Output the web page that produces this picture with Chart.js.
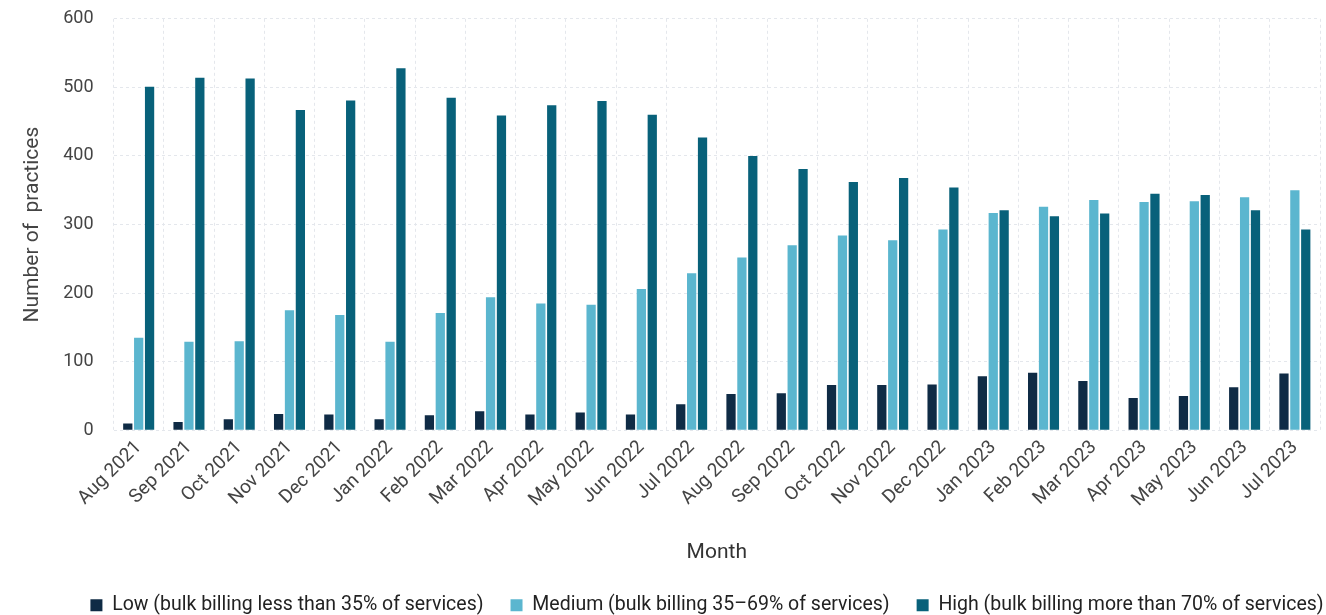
<!DOCTYPE html>
<html>
<head>
<meta charset="utf-8">
<script src="https://cdn.jsdelivr.net/npm/chart.js@4/dist/chart.umd.min.js"></script>
<style>
  html, body { margin: 0; padding: 0; background: #ffffff; }
  #wrap { width: 1326px; height: 615px; }
</style>
</head>
<body>
<div id="wrap"><canvas id="billing"></canvas></div>
<script>
const months = [
    "Aug 2021", "Sep 2021", "Oct 2021", "Nov 2021", "Dec 2021", "Jan 2022",
    "Feb 2022", "Mar 2022", "Apr 2022", "May 2022", "Jun 2022", "Jul 2022",
    "Aug 2022", "Sep 2022", "Oct 2022", "Nov 2022", "Dec 2022", "Jan 2023",
    "Feb 2023", "Mar 2023", "Apr 2023", "May 2023", "Jun 2023", "Jul 2023",
];
const lowValues = [10, 12, 16, 24, 23, 16, 22, 28, 23, 26, 23, 38, 53, 54, 66, 66, 67, 79, 84, 72, 47, 50, 63, 83];
const mediumValues = [135, 129, 130, 175, 168, 129, 171, 194, 185, 183, 206, 229, 252, 270, 284, 277, 293, 317, 326, 336, 333, 334, 340, 350];
const highValues = [501, 514, 513, 467, 481, 528, 485, 459, 474, 480, 460, 427, 400, 381, 362, 368, 354, 321, 312, 316, 345, 343, 321, 293];
const yTicks = [0, 100, 200, 300, 400, 500, 600];

const seriesNames = [
    "Low (bulk billing less than 35% of services)",
    "Medium (bulk billing 35\u201369% of services)",
    "High (bulk billing more than 70% of services)",
];

const data = {
    labels: months,
    datasets: [
        { label: seriesNames[0], data: lowValues, backgroundColor: "#0f2b45" },
        { label: seriesNames[1], data: mediumValues, backgroundColor: "#5bb6cf" },
        { label: seriesNames[2], data: highValues, backgroundColor: "#08617a" },
    ],
};

// nudge the legend row to the right, like the original
const legendShift = {
    id: "legendShift",
    afterLayout(chart) {
        chart.legend.left += 37;
        chart.legend.right += 37;
    },
};

// config
const config = {
    type: "bar",
    data,
    plugins: [legendShift],
    options: {
        responsive: true,
        maintainAspectRatio: false,
        animation: false,
        layout: { padding: { top: 0, right: 6, left: 20, bottom: -10 } },
        datasets: { bar: { barPercentage: 0.85, categoryPercentage: 0.65 } },
        scales: {
            x: {
                grid: { color: "#e4e7ec", offset: true, drawTicks: false },
                border: { display: false, dash: [3, 3] },
                ticks: {
                    color: "#444",
                    font: { family: "Roboto", size: 19 },
                    minRotation: 45,
                    maxRotation: 45,
                    padding: 6,
                },
                title: {
                    display: true,
                    text: "Month",
                    color: "#333",
                    font: { family: "Roboto", size: 21 },
                    padding: { top: 23, bottom: 3 },
                },
            },
            y: {
                min: 0,
                max: 600,
                afterBuildTicks: (axis) => { axis.ticks = yTicks.map((v) => ({ value: v })); },
                grid: { color: "#e4e7ec", drawTicks: true, tickLength: 12, tickColor: "rgba(0,0,0,0)" },
                border: { display: false, dash: [3, 3] },
                ticks: {
                    color: "#444",
                    font: { family: "Roboto", size: 18 },
                    padding: 8,
                },
                title: {
                    display: true,
                    text: "Number of  practices",
                    color: "#444",
                    font: { family: "Roboto", size: 21 },
                    padding: { top: 0, bottom: 10 },
                },
            },
        },
        plugins: {
            legend: {
                position: "bottom",
                labels: {
                    color: "#222",
                    font: { family: "Roboto", size: 19.5 },
                    boxWidth: 12,
                    boxHeight: 12,
                    padding: 27,
                },
            },
            tooltip: { enabled: false },
        },
    },
};

// render
const chartEl = document.getElementById("billing");
const billingChart = new Chart(chartEl, config);
</script>
</body>
</html>
